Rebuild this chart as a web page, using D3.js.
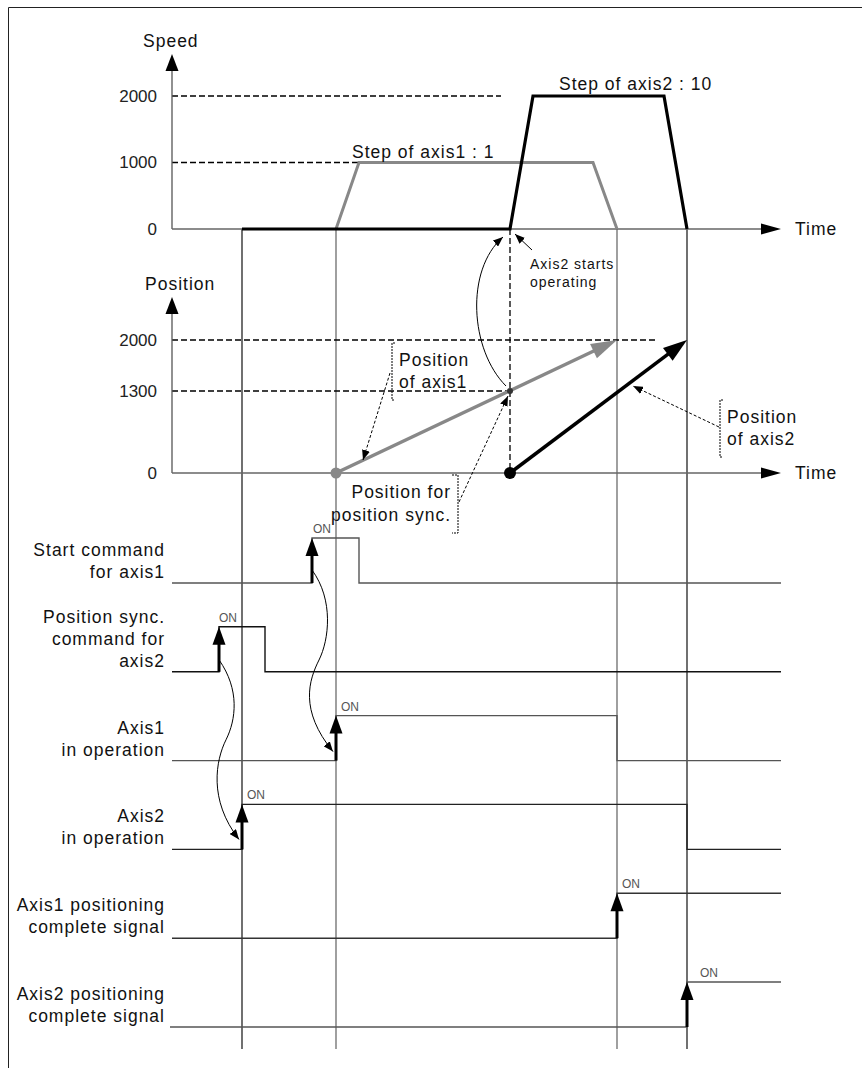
<!DOCTYPE html>
<html><head><meta charset="utf-8">
<script src="https://cdn.jsdelivr.net/npm/d3@7"></script>
<style>
body{margin:0;background:#fff}
svg{display:block;font-family:"Liberation Sans",Arial,sans-serif}
svg text{letter-spacing:1px}
</style>
</head><body>
<svg id="c" width="862" height="1068"></svg>
<script>
// ---------------- data ----------------
const timeMax = 609;                       // time units (arbitrary)
const speedTicks = [0, 1000, 2000];
const posTicks = [0, 1300, 2000];
const axis1Speed = [[164, 0], [187, 1000], [421, 1000], [445, 0]];
const axis2Speed = [[70, 0], [338, 0], [361, 2000], [492, 2000], [515, 0]];
const axis1Pos = [[164, 0], [445, 2000]];
const axis2Pos = [[338, 0], [515, 2000]];
const syncPoint = [338, 1300];
const speedRefEnd = {2000: 329, 1000: 187};
const posRefEnd = {2000: 484, 1300: 338};
const guideTimes = [70, 164, 445, 515];
const guideColors = ["#111", "#888", "#888", "#111"];
const signalLabels = [
  ["Start command", "for axis1"],
  ["Position sync.", "command for", "axis2"],
  ["Axis1", "in operation"],
  ["Axis2", "in operation"],
  ["Axis1 positioning", "complete signal"],
  ["Axis2 positioning", "complete signal"]
];
const signalRise = [140, 47, 164, 70, 445, 515];
const signalFall = [187, 93, 445, 515, null, null];
const signalColors = ["#555", "#111", "#555", "#222", "#333", "#555"];
const onDx = [1, 0, 5, 5, 5, 13];

// ---------------- scales ----------------
const svg = d3.select("#c");
const x = d3.scaleLinear().domain([0, timeMax]).range([172, 781]);
const ySpeed = d3.scaleLinear().domain([0, 2000]).range([229, 96]);
const yPos = d3.scaleLinear().domain([0, 1300, 2000]).range([473, 391, 340]);
const rowKeys = signalLabels.map((d, i) => i);
const yRow = d3.scalePoint().domain(rowKeys).range([583, 1027]);
const HIGH = 45;
const FS = 17.5;

// markers
const defs = svg.append("defs");
defs.append("marker").attr("id", "ah").attr("viewBox", "0 0 10 8")
  .attr("refX", 10).attr("refY", 4).attr("markerWidth", 10).attr("markerHeight", 8)
  .attr("markerUnits", "userSpaceOnUse").attr("orient", "auto")
  .append("path").attr("d", "M0,0L10,4L0,8Z").attr("fill", "#000");

function tri(x1, y1, x2, y2, len, half) {
  const dx = x2 - x1, dy = y2 - y1, L = Math.hypot(dx, dy);
  const ux = dx / L, uy = dy / L;
  const bx = x2 - ux * len, by = y2 - uy * len;
  return `M${x2},${y2}L${bx - uy * half},${by + ux * half}L${bx + uy * half},${by - ux * half}Z`;
}
function lines(g, arr, px, py, lh, anchor, size, fill) {
  arr.forEach((t, i) => g.append("text").attr("x", anchor === "end" ? px + 1 : px).attr("y", py + i * lh)
    .attr("text-anchor", anchor || "start").attr("font-size", size || FS)
    .attr("fill", fill || "#111").text(t));
}

// border
svg.append("path").attr("d", "M8.5,1068V7.5H862").attr("fill", "none").attr("stroke", "#222");

// ---------------- vertical guide lines ----------------
guideTimes.forEach((t, i) => {
  svg.append("line").attr("x1", x(t)).attr("x2", x(t))
    .attr("y1", ySpeed(0)).attr("y2", 1049)
    .attr("stroke", guideColors[i]).attr("stroke-width", i === 1 || i === 2 ? 1.6 : 1.2);
});

// ---------------- speed chart ----------------
const gS = svg.append("g");
speedTicks.filter(v => v > 0).forEach(v => {
  gS.append("line").attr("x1", x(0)).attr("x2", x(speedRefEnd[v]))
    .attr("y1", ySpeed(v)).attr("y2", ySpeed(v))
    .attr("stroke", "#000").attr("stroke-width", 1.3).attr("stroke-dasharray", "6,3");
});
gS.append("line").attr("x1", x(0)).attr("x2", x(0)).attr("y1", ySpeed(0)).attr("y2", 68)
  .attr("stroke", "#555").attr("stroke-width", 1.3);
gS.append("path").attr("d", tri(x(0), 100, x(0), 54, 17, 6.5)).attr("fill", "#000");
gS.append("line").attr("x1", x(0)).attr("x2", x(timeMax) - 15).attr("y1", ySpeed(0)).attr("y2", ySpeed(0))
  .attr("stroke", "#666").attr("stroke-width", 1.3);
gS.append("path").attr("d", tri(700, ySpeed(0), x(timeMax), ySpeed(0), 20, 5.5)).attr("fill", "#000");
const axS = gS.append("g").attr("transform", `translate(${x(0)},0)`)
  .call(d3.axisLeft(ySpeed).tickValues(speedTicks).tickSize(0).tickPadding(15).tickFormat(d3.format("d")));
axS.select(".domain").remove();
axS.selectAll("text").attr("font-size", 17).attr("font-family", "Liberation Sans").attr("fill", "#222")
  .style("letter-spacing", "0px");
gS.append("text").attr("x", 143).attr("y", 47).attr("font-size", FS).attr("fill", "#111").text("Speed");
gS.append("text").attr("x", 795).attr("y", ySpeed(0) + 6).attr("font-size", FS).attr("fill", "#111").text("Time");
const lineS = d3.line().x(d => x(d[0])).y(d => ySpeed(d[1]));
gS.append("path").attr("d", lineS(axis1Speed)).attr("fill", "none")
  .attr("stroke", "#888").attr("stroke-width", 3);
gS.append("path").attr("d", lineS(axis2Speed)).attr("fill", "none")
  .attr("stroke", "#000").attr("stroke-width", 3.2);
gS.append("text").attr("x", 352).attr("y", 158).attr("font-size", FS).attr("fill", "#111").text("Step of axis1 : 1");
gS.append("text").attr("x", 559).attr("y", 90).attr("font-size", FS).attr("fill", "#111").text("Step of axis2 : 10");

// ---------------- position chart ----------------
const gP = svg.append("g");
posTicks.filter(v => v > 0).forEach(v => {
  gP.append("line").attr("x1", x(0)).attr("x2", x(posRefEnd[v]))
    .attr("y1", yPos(v)).attr("y2", yPos(v))
    .attr("stroke", "#000").attr("stroke-width", 1.3).attr("stroke-dasharray", "6,3");
});
gP.append("line").attr("x1", x(syncPoint[0])).attr("x2", x(syncPoint[0]))
  .attr("y1", ySpeed(0)).attr("y2", yPos(0))
  .attr("stroke", "#000").attr("stroke-width", 1.3).attr("stroke-dasharray", "6,3");
gP.append("line").attr("x1", x(0)).attr("x2", x(0)).attr("y1", yPos(0)).attr("y2", 312)
  .attr("stroke", "#555").attr("stroke-width", 1.3);
gP.append("path").attr("d", tri(x(0), 340, x(0), 297, 17, 6.5)).attr("fill", "#000");
gP.append("line").attr("x1", x(0)).attr("x2", x(timeMax) - 15).attr("y1", yPos(0)).attr("y2", yPos(0))
  .attr("stroke", "#666").attr("stroke-width", 1.3);
gP.append("path").attr("d", tri(700, yPos(0), x(timeMax), yPos(0), 20, 5.5)).attr("fill", "#000");
const axP = gP.append("g").attr("transform", `translate(${x(0)},0)`)
  .call(d3.axisLeft(yPos).tickValues(posTicks).tickSize(0).tickPadding(15).tickFormat(d3.format("d")));
axP.select(".domain").remove();
axP.selectAll("text").attr("font-size", 17).attr("font-family", "Liberation Sans").attr("fill", "#222")
  .style("letter-spacing", "0px");
gP.append("text").attr("x", 145).attr("y", 290).attr("font-size", FS).attr("fill", "#111").text("Position");
gP.append("text").attr("x", 795).attr("y", yPos(0) + 6).attr("font-size", FS).attr("fill", "#111").text("Time");

function posArrow(data, color, w, len, half) {
  const [a, b] = data;
  const x1 = x(a[0]), y1 = yPos(a[1]), x2 = x(b[0]), y2 = yPos(b[1]);
  const L = Math.hypot(x2 - x1, y2 - y1);
  const ex = x2 - (x2 - x1) / L * (len - 2), ey = y2 - (y2 - y1) / L * (len - 2);
  gP.append("line").attr("x1", x1).attr("y1", y1).attr("x2", ex).attr("y2", ey)
    .attr("stroke", color).attr("stroke-width", w);
  gP.append("path").attr("d", tri(x1, y1, x2, y2, len, half)).attr("fill", color);
}
posArrow(axis1Pos, "#888", 3.5, 26, 8);
posArrow(axis2Pos, "#000", 3.5, 24, 8);
gP.append("circle").attr("cx", x(axis1Pos[0][0])).attr("cy", yPos(axis1Pos[0][1])).attr("r", 5.5).attr("fill", "#888");
gP.append("circle").attr("cx", x(axis2Pos[0][0])).attr("cy", yPos(axis2Pos[0][1])).attr("r", 6).attr("fill", "#000");
gP.append("circle").attr("cx", x(syncPoint[0])).attr("cy", yPos(syncPoint[1])).attr("r", 3).attr("fill", "#333");

// ---------------- annotations ----------------
const gA = svg.append("g");
const sx = x(syncPoint[0]), sy = yPos(syncPoint[1]);
gA.append("path").attr("d", `M${sx - 4},${sy - 5}C${sx - 40},${sy - 41} ${sx - 45},${sy - 121} ${sx - 7},${ySpeed(0) + 8}`)
  .attr("fill", "none").attr("stroke", "#000").attr("stroke-width", 1).attr("marker-end", "url(#ah)");
gA.append("line").attr("x1", sx + 22).attr("y1", ySpeed(0) + 21).attr("x2", sx + 5).attr("y2", ySpeed(0) + 5)
  .attr("stroke", "#000").attr("stroke-width", 1).attr("marker-end", "url(#ah)");
lines(gA, ["Axis2 starts", "operating"], 530, 269, 18, "start", 14);

lines(gA, ["Position", "of axis1"], 399, 366, 22);
gA.append("path").attr("d", "M395,343H392V400H395").attr("fill", "none").attr("stroke", "#000")
  .attr("stroke-width", 1).attr("stroke-dasharray", "2,1");
gA.append("line").attr("x1", 390).attr("y1", 373).attr("x2", 363).attr("y2", 460)
  .attr("stroke", "#000").attr("stroke-width", 1).attr("stroke-dasharray", "3,2").attr("marker-end", "url(#ah)");

lines(gA, ["Position for", "position sync."], 450, 498, 23, "end");
gA.append("path").attr("d", "M452,475H458V533H452").attr("fill", "none").attr("stroke", "#000")
  .attr("stroke-width", 1).attr("stroke-dasharray", "2,1");
gA.append("line").attr("x1", 459).attr("y1", 502).attr("x2", sx - 2).attr("y2", sy + 5)
  .attr("stroke", "#000").attr("stroke-width", 1).attr("stroke-dasharray", "3,2").attr("marker-end", "url(#ah)");

lines(gA, ["Position", "of axis2"], 727, 423, 22);
gA.append("path").attr("d", "M723,400H720V457H723").attr("fill", "none").attr("stroke", "#000")
  .attr("stroke-width", 1).attr("stroke-dasharray", "2,1");
gA.append("line").attr("x1", 719).attr("y1", 427).attr("x2", 633).attr("y2", 386)
  .attr("stroke", "#000").attr("stroke-width", 1).attr("stroke-dasharray", "3,2").attr("marker-end", "url(#ah)");

// ---------------- signals ----------------
const gT = svg.append("g");
signalLabels.forEach((lab, i) => {
  const low = yRow(i), high = low - HIGH;
  const r = signalRise[i], f = signalFall[i];
  let d = `M${x(0) - (i === 5 ? 2 : 0)},${low}H${x(r)}V${high}`;
  if (f !== null) d += `H${x(f)}V${low}H${x(timeMax)}`; else d += `H${x(timeMax)}`;
  gT.append("path").attr("d", d).attr("fill", "none").attr("stroke", signalColors[i]).attr("stroke-width", 1.4);
  gT.append("line").attr("x1", x(r)).attr("x2", x(r)).attr("y1", low).attr("y2", high + 16)
    .attr("stroke", "#000").attr("stroke-width", 3);
  gT.append("path").attr("d", tri(x(r), low, x(r), high, 18, 6.5)).attr("fill", "#000");
  gT.append("text").attr("x", x(r) + onDx[i]).attr("y", high - 5).attr("font-size", 12)
    .attr("fill", "#555").style("letter-spacing", "0px").text("ON");
  const n = lab.length;
  lines(gT, lab, 164, low - 5 - (n - 1) * 22, 22, "end");
});
const r0 = x(signalRise[0]), r1 = x(signalRise[1]);
gT.append("path").attr("d",
  `M${r0},${yRow(0) - 13}C${r0 + 22},${yRow(0) + 17} ${r0 + 17},${yRow(0) + 57} ${r0 + 7},${yRow(0) + 77}S${r0 - 13},${yRow(0) + 127} ${x(signalRise[2]) - 3},${yRow(2) - 9}`)
  .attr("fill", "none").attr("stroke", "#000").attr("stroke-width", 1).attr("marker-end", "url(#ah)");
gT.append("path").attr("d",
  `M${r1},${yRow(1) - 12}C${r1 + 21},${yRow(1) + 18} ${r1 + 17},${yRow(1) + 48} ${r1 + 7},${yRow(1) + 68}S${r1 - 11},${yRow(1) + 128} ${x(signalRise[3]) - 3},${yRow(3) - 10}`)
  .attr("fill", "none").attr("stroke", "#000").attr("stroke-width", 1).attr("marker-end", "url(#ah)");
</script>
</body></html>
